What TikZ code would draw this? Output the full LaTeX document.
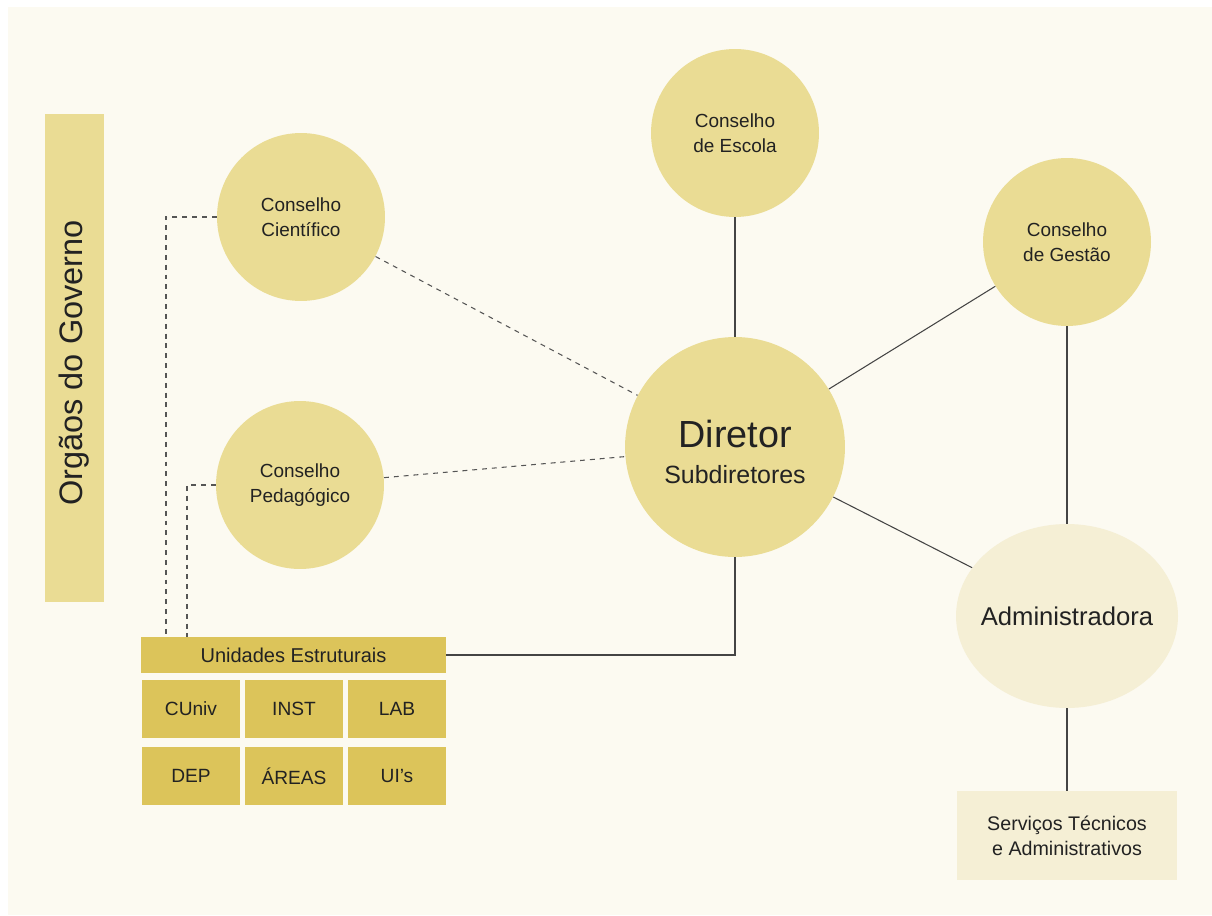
\documentclass[tikz,border=0pt]{standalone}
\usepackage{fontspec}
\setmainfont{Liberation Sans}
\usetikzlibrary{shapes.geometric}
\definecolor{bgcream}{HTML}{FCFAF1}
\definecolor{circfill}{HTML}{EADC94}
\definecolor{barfill}{HTML}{DCC45A}
\definecolor{lightfill}{HTML}{F5EFD5}
\definecolor{txt}{HTML}{222222}
\definecolor{linecol}{HTML}{444444}
\definecolor{dashcol}{HTML}{555555}
\begin{document}
\begin{tikzpicture}[x=0.02cm,y=-0.02cm,
  council/.style={circle,fill=circfill,draw=none,inner sep=0pt,minimum size=3.36cm,
    align=center,text=txt,font=\fontsize{10.8}{14.2}\selectfont},
  cell/.style={rectangle,fill=barfill,draw=none,inner sep=0pt,minimum width=1.96cm,
    minimum height=1.16cm,text=txt,font=\fontsize{10.9}{13}\selectfont},
  solidlink/.style={draw=linecol,line width=0.6pt},
  dashlink/.style={draw=dashcol,line width=0.6pt,dash pattern=on 2.8pt off 2.8pt}]
\useasboundingbox (0,0) rectangle (1212,915);
\fill[white] (0,0) rectangle (1212,915);
\fill[bgcream] (8,7) rectangle (1212,915);

% Orgaos do Governo bar
\node[rectangle,fill=circfill,inner sep=0pt,minimum width=1.18cm,minimum height=9.76cm,
  anchor=north west] (gov) at (45,114) {};
\node[rotate=90,text=txt,font=\fontsize{18.5}{22}\selectfont] (govtxt) at (74,363) {Orgãos do Governo};

% councils
\node[council] (cc) at (301,217) {Conselho\\Científico};
\node[council] (cp) at (300,485) {Conselho\\Pedagógico};
\node[council] (ce) at (735,133) {Conselho\\de Escola};
\node[council] (cg) at (1067,242) {Conselho\\de Gestão};
\node[circle,fill=circfill,inner sep=0pt,minimum size=4.4cm,text=txt] (dir) at (735,447) {};
\node[align=center,text=txt,inner sep=0pt,font=\fontsize{14.2}{20}\selectfont] (dirtxt) at (735,452)
  {{\fontsize{21.5}{24}\selectfont Diretor}\\Subdiretores};
\node[ellipse,fill=lightfill,inner sep=0pt,minimum width=4.44cm,minimum height=3.68cm,
  label={[text=txt,font=\fontsize{14.6}{17}\selectfont]center:Administradora}] (adm) at (1067,616) {};
\node[rectangle,fill=lightfill,inner sep=0pt,minimum width=4.4cm,minimum height=1.78cm,
  align=center,text=txt,font=\fontsize{11.2}{14.4}\selectfont] (serv) at (1067,835.5)
  {Serviços Técnicos\\e Administrativos};

% Unidades Estruturais
\node[rectangle,fill=barfill,inner sep=0pt,minimum width=6.1cm,minimum height=0.72cm,
  text=txt,font=\fontsize{11.4}{13}\selectfont] (ue) at (293.5,655) {Unidades Estruturais};
\node[cell] (cuniv) at (191,709) {CUniv};
\node[cell] (inst) at (294,709) {INST};
\node[cell] (lab) at (397,709) {LAB};
\node[cell] (dep) at (191,776) {DEP};
\node[cell] (areas) at (294,776) {ÁREAS};
\node[cell] (uis) at (397,776) {UI’s};

% solid connectors
\draw[solidlink] (ce) -- (dir);
\draw[solidlink] (cg) -- (dir);
\draw[solidlink] (cg) -- (adm);
\draw[solidlink] (dir) -- (adm);
\draw[solidlink] (adm) -- (serv);
\draw[solidlink] (dir.south) |- (ue.east);

% dashed connectors
\draw[dashlink] (cc) -- (dir);
\draw[dashlink] (cp) -- (dir);
\coordinate (ccturn) at (166,217);
\coordinate (cpturn) at (187,485);
\draw[dashlink] (cc.west) -- (ccturn) -- (ccturn |- ue.north);
\draw[dashlink] (cp.west) -- (cpturn) -- (cpturn |- ue.north);
\end{tikzpicture}
\end{document}
